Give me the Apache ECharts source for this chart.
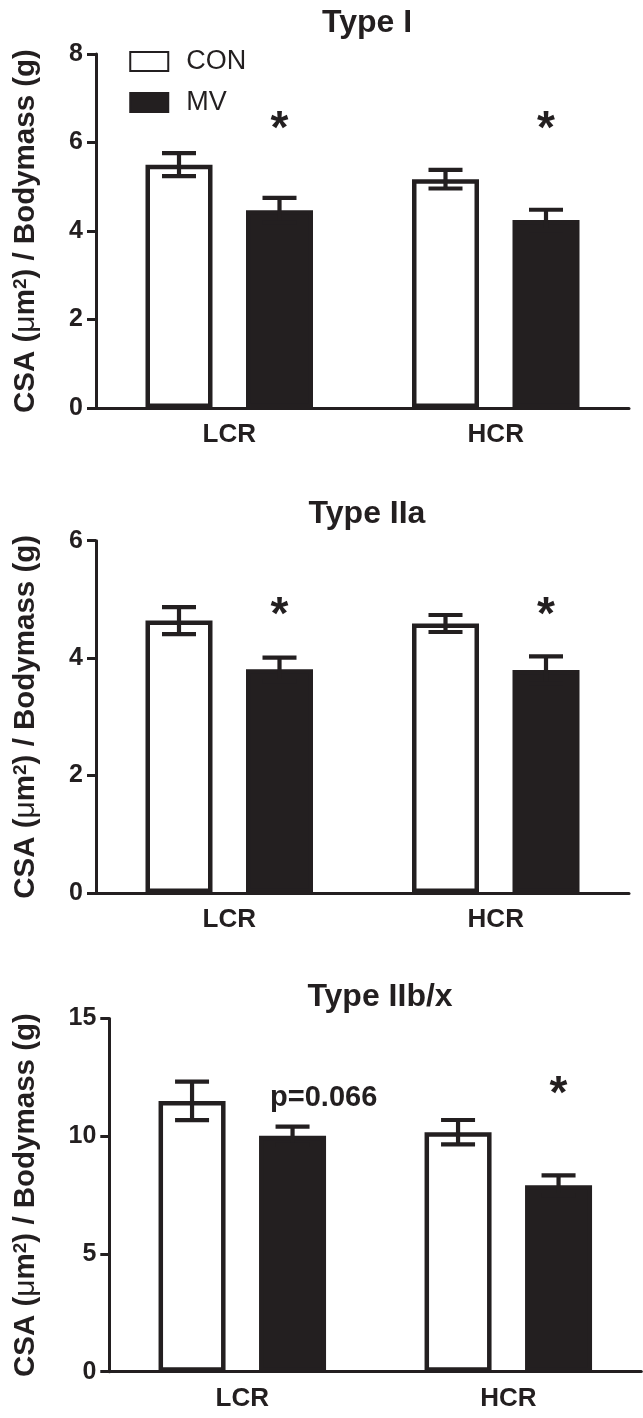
<!DOCTYPE html>
<html>
<head>
<meta charset="utf-8">
<script src="https://cdn.jsdelivr.net/npm/echarts@6/dist/echarts.min.js"></script>
<style>
html,body{margin:0;padding:0;background:#fff;}
#chart{width:643px;height:1418px;}
</style>
</head>
<body>
<div id="chart"></div>
<script>
// ---- data ----
const categories = ['LCR', 'HCR'];
const seriesNames = ['CON', 'MV'];
const panelTitles = ['Type I', 'Type IIa', 'Type IIb/x'];
const yAxisNameParts = ['CSA (', '\u03bc', 'm', '2', ') / Bodymass (g)'];
const yMax = [8, 6, 15];
const yInterval = [2, 2, 5];

const typeI_CON = [5.50, 5.17];
const typeI_CON_err = [0.26, 0.21];
const typeI_MV = [4.47, 4.25];
const typeI_MV_err = [0.28, 0.23];
const typeI_marks = ['*', '*'];
const typeI_markY = [6.45, 6.45];

const typeIIa_CON = [4.64, 4.59];
const typeIIa_CON_err = [0.23, 0.145];
const typeIIa_MV = [3.81, 3.80];
const typeIIa_MV_err = [0.20, 0.23];
const typeIIa_marks = ['*', '*'];
const typeIIa_markY = [4.84, 4.84];

const typeIIbx_CON = [11.5, 10.17];
const typeIIbx_CON_err = [0.82, 0.52];
const typeIIbx_MV = [10.02, 7.92];
const typeIIbx_MV_err = [0.39, 0.42];
const typeIIbx_marks = ['p=0.066', '*'];
const typeIIbx_markY = [11.64, 12.07];

const panels = [
  {con: typeI_CON, conErr: typeI_CON_err, mv: typeI_MV, mvErr: typeI_MV_err, marks: typeI_marks, markY: typeI_markY},
  {con: typeIIa_CON, conErr: typeIIa_CON_err, mv: typeIIa_MV, mvErr: typeIIa_MV_err, marks: typeIIa_marks, markY: typeIIa_markY},
  {con: typeIIbx_CON, conErr: typeIIbx_CON_err, mv: typeIIbx_MV, mvErr: typeIIbx_MV_err, marks: typeIIbx_marks, markY: typeIIbx_markY}
];

// ---- layout / style ----
const INK = '#231f20';
const FONT = '"Liberation Sans", Arial, Helvetica, sans-serif';
const grids = [
  {left: 96, top: 54, width: 533, height: 354},
  {left: 96, top: 540.7, width: 533, height: 352.3},
  {left: 109.3, top: 1018.5, width: 532, height: 353.2}
];
const titleTops = [2, 493, 976];
const titleCenters = [362, 362, 375];
const BAR_W = 67;
const BAR_OFF = 50.25;
const CAP_HALF = 17;

const yAxisNameRich = '{a|' + yAxisNameParts[0] + '}{m|' + yAxisNameParts[1] + '}{a|' + yAxisNameParts[2] +
  '}{s|' + yAxisNameParts[3] + '}{a|' + yAxisNameParts[4] + '}';

function errRender(offset) {
  return function (params, api) {
    const c = api.value(0), m = api.value(1), e = api.value(2);
    const hi = api.coord([c, m + e]);
    const lo = api.coord([c, m - e]);
    const x = hi[0] + offset;
    const st = {stroke: INK, lineWidth: 4.2, lineCap: 'butt'};
    return {type: 'group', children: [
      {type: 'line', shape: {x1: x, y1: lo[1], x2: x, y2: hi[1]}, style: st},
      {type: 'line', shape: {x1: x - CAP_HALF, y1: hi[1], x2: x + CAP_HALF, y2: hi[1]}, style: st},
      {type: 'line', shape: {x1: x - CAP_HALF, y1: lo[1], x2: x + CAP_HALF, y2: lo[1]}, style: st}
    ]};
  };
}

function markRender(params, api) {
  const c = api.value(0), y = api.value(1);
  const txt = panels[api.value(2)].marks[c];
  const p = api.coord([c, y]);
  if (txt === '*') {
    return {type: 'text', x: p[0] + BAR_OFF, y: p[1] + 8,
      style: {text: txt, fill: INK, font: 'bold 46px ' + FONT, align: 'center', verticalAlign: 'middle'}};
  }
  return {type: 'text', x: p[0] + BAR_OFF - 35.5 + 13, y: p[1],
    style: {text: txt, fill: INK, font: 'bold 29px ' + FONT, align: 'left', verticalAlign: 'middle'}};
}

const nameBase = {fontFamily: FONT, fontWeight: 'bold', fontSize: 29.5, color: INK};

const option = {
  animation: false,
  backgroundColor: '#fff',
  title: panelTitles.map((t, i) => ({
    text: t, left: titleCenters[i], top: titleTops[i], textAlign: 'center',
    textStyle: {fontFamily: FONT, fontWeight: 'bold', fontSize: 32, color: INK}
  })),
  legend: {
    data: seriesNames, orient: 'vertical', left: 129.25, top: 48, padding: 0,
    itemWidth: 38, itemHeight: 19, itemGap: 14, icon: 'rect',
    textStyle: {fontFamily: FONT, fontSize: 27, color: INK, padding: [0, 0, 0, 13]}
  },
  grid: grids,
  xAxis: grids.map((g, i) => ({
    type: 'category', gridIndex: i, data: categories,
    axisLine: {lineStyle: {color: INK, width: 3}},
    axisTick: {alignWithLabel: true, length: 10, lineStyle: {color: INK, width: 3}},
    axisLabel: {fontFamily: FONT, fontWeight: 'bold', fontSize: 26, color: INK, margin: 14}
  })),
  yAxis: grids.map((g, i) => ({
    type: 'value', gridIndex: i, min: 0, max: yMax[i], interval: yInterval[i],
    name: yAxisNameRich, nameLocation: 'middle', nameGap: g.left - 41,
    nameTextStyle: Object.assign({}, nameBase, {
      rich: {
        a: Object.assign({}, nameBase),
        m: Object.assign({}, nameBase, {fontWeight: 'normal', fontSize: 30}),
        s: Object.assign({}, nameBase, {fontSize: 19, verticalAlign: 'top'})
      }
    }),
    splitLine: {show: false},
    axisLine: {show: true, lineStyle: {color: INK, width: 3}},
    axisTick: {show: true, length: 9, lineStyle: {color: INK, width: 3}},
    axisLabel: {fontFamily: FONT, fontWeight: 'bold', fontSize: 25, color: INK, margin: 13}
  })),
  series: []
};

panels.forEach((p, i) => {
  option.series.push({
    name: 'CON', type: 'bar', xAxisIndex: i, yAxisIndex: i, data: p.con,
    barWidth: BAR_W, barGap: '50%',
    itemStyle: {color: '#fff', borderColor: INK, borderWidth: 4.5}
  });
  option.series.push({
    name: 'MV', type: 'bar', xAxisIndex: i, yAxisIndex: i, data: p.mv,
    barWidth: BAR_W, barGap: '50%',
    itemStyle: {color: INK, borderColor: INK, borderWidth: 4.5}
  });
  option.series.push({
    type: 'custom', xAxisIndex: i, yAxisIndex: i, z: 5,
    renderItem: errRender(-BAR_OFF),
    data: p.con.map((v, k) => [k, v, p.conErr[k]])
  });
  option.series.push({
    type: 'custom', xAxisIndex: i, yAxisIndex: i, z: 5,
    renderItem: errRender(BAR_OFF),
    data: p.mv.map((v, k) => [k, v, p.mvErr[k]])
  });
  option.series.push({
    type: 'custom', xAxisIndex: i, yAxisIndex: i, z: 6,
    renderItem: markRender,
    data: p.markY.map((v, k) => [k, v, i])
  });
});

const chart = echarts.init(document.getElementById('chart'), null, {renderer: 'canvas'});
chart.setOption(option);
</script>
</body>
</html>
